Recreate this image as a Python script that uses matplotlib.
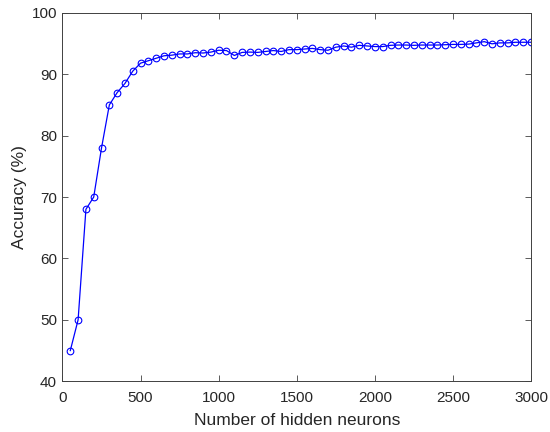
import matplotlib
matplotlib.use('Agg')
import matplotlib.pyplot as plt

plt.rcParams['font.family'] = ['Liberation Sans', 'DejaVu Sans']

# hidden neuron counts (50 .. 3000 in steps of 50)
neurons = list(range(50, 3001, 50))
# accuracy (%)
accuracy = [45.0, 50.0, 68.0, 70.0, 78.0, 85.0, 87.0, 88.5, 90.5, 91.8,
            92.2, 92.6, 93.0, 93.1, 93.3, 93.3, 93.5, 93.45, 93.6, 93.9,
            93.85, 93.05, 93.55, 93.6, 93.55, 93.7, 93.85, 93.7, 94.0, 94.0,
            94.1, 94.2, 94.0, 93.9, 94.4, 94.6, 94.4, 94.7, 94.6, 94.5,
            94.5, 94.7, 94.75, 94.75, 94.7, 94.75, 94.75, 94.75, 94.8, 94.85,
            94.85, 94.9, 95.1, 95.3, 94.95, 95.1, 95.1, 95.2, 95.2, 95.2]

xticks = [0, 500, 1000, 1500, 2000, 2500, 3000]
yticks = [40, 50, 60, 70, 80, 90, 100]

fig = plt.figure(figsize=(5.5, 4.32), dpi=100)
ax = fig.add_axes([0.1136, 0.1174, 0.852, 0.853])

ax.plot(neurons, accuracy, color='blue', linewidth=0.9,
        marker='o', markersize=4.8, markerfacecolor='none',
        markeredgecolor='blue', markeredgewidth=0.8)

ax.set_xlim(0, 3000)
ax.set_ylim(40, 100)
ax.set_xticks(xticks)
ax.set_yticks(yticks)

txt = '#262626'
ax.set_xlabel('Number of hidden neurons', fontsize=12.5, color=txt, labelpad=5.5)
ax.set_ylabel('Accuracy (%)', fontsize=12.5, color=txt, labelpad=3.5)
ax.tick_params(direction='in', top=True, right=True, length=4, width=0.6,
               colors='#404040', labelcolor=txt, labelsize=11)
ax.tick_params(axis='x', pad=7)
ax.tick_params(axis='y', pad=4)
for s in ax.spines.values():
    s.set_color('#404040')
    s.set_linewidth(0.7)

fig.savefig('out.png', dpi=100)
